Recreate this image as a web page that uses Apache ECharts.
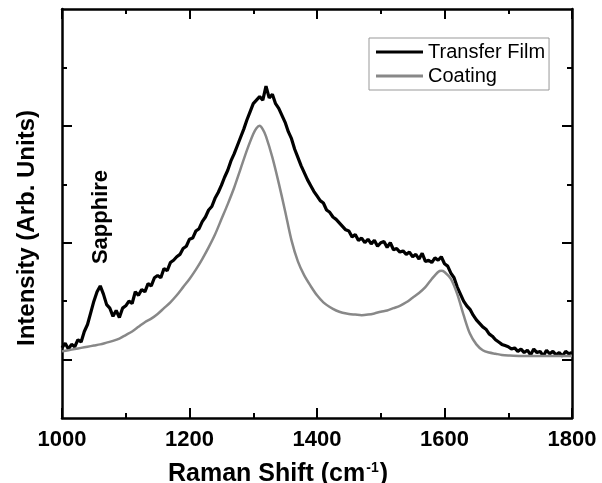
<!DOCTYPE html>
<html><head><meta charset="utf-8">
<script src="https://cdn.jsdelivr.net/npm/echarts@6/dist/echarts.min.js"></script>
<style>html,body{margin:0;padding:0;background:#fff}#c{width:602px;height:483px}</style>
</head><body><div id="c"></div>
<script>
const seriesNames = ['Transfer Film', 'Coating'];
const xAxisTitle = 'Raman Shift (cm';
const xAxisTitleSup = '-1';
const yAxisTitle = 'Intensity (Arb. Units)';
const peakLabel = 'Sapphire';
const yMajorTicks = [0, 1, 2];
const yMinorTicks = [0.5, 1.5, 2.5];

const transferFilm = [
[1000,0.10],[1005,0.14],[1010,0.09],[1015,0.13],[1020,0.11],[1025,0.17],[1030,0.15],[1035,0.24],[1040,0.30],[1045,0.40],
[1050,0.50],[1055,0.58],[1060,0.63],[1065,0.56],[1070,0.47],[1075,0.44],[1080,0.37],[1085,0.42],[1090,0.36],[1095,0.44],
[1100,0.46],[1105,0.50],[1110,0.48],[1115,0.58],[1120,0.55],[1125,0.60],[1130,0.58],[1135,0.65],[1140,0.63],[1145,0.70],
[1150,0.72],[1155,0.70],[1160,0.78],[1165,0.76],[1170,0.83],[1175,0.85],[1180,0.88],[1185,0.90],[1190,0.95],[1195,0.97],
[1200,1.03],[1205,1.04],[1210,1.10],[1215,1.12],[1220,1.18],[1225,1.22],[1230,1.28],[1235,1.31],[1240,1.38],[1245,1.43],
[1250,1.49],[1255,1.56],[1260,1.62],[1265,1.70],[1270,1.76],[1275,1.83],[1280,1.90],[1285,1.97],[1290,2.05],[1295,2.12],
[1300,2.19],[1305,2.22],[1310,2.25],[1315,2.22],[1320,2.34],[1325,2.24],[1330,2.27],[1335,2.19],[1340,2.15],[1345,2.09],
[1350,2.03],[1355,1.95],[1360,1.89],[1365,1.80],[1370,1.73],[1375,1.66],[1380,1.60],[1385,1.54],[1390,1.49],[1395,1.44],
[1400,1.40],[1405,1.36],[1410,1.34],[1415,1.28],[1420,1.26],[1425,1.22],[1430,1.20],[1435,1.17],[1440,1.14],[1445,1.11],
[1450,1.10],[1455,1.05],[1460,1.07],[1465,1.02],[1470,1.04],[1475,1.00],[1480,1.03],[1485,0.99],[1490,1.02],[1495,0.97],
[1500,1.00],[1505,1.01],[1510,0.96],[1515,1.00],[1520,0.94],[1525,0.95],[1530,0.92],[1535,0.93],[1540,0.90],[1545,0.92],
[1550,0.88],[1555,0.90],[1560,0.86],[1565,0.91],[1570,0.84],[1575,0.85],[1580,0.83],[1585,0.87],[1590,0.85],[1595,0.88],
[1600,0.82],[1605,0.80],[1610,0.74],[1615,0.70],[1620,0.62],[1625,0.56],[1630,0.50],[1635,0.46],[1640,0.43],[1645,0.38],
[1650,0.34],[1655,0.31],[1660,0.28],[1665,0.26],[1670,0.22],[1675,0.20],[1680,0.17],[1685,0.15],[1690,0.13],[1695,0.12],
[1700,0.11],[1705,0.09],[1710,0.10],[1715,0.07],[1720,0.09],[1725,0.06],[1730,0.08],[1735,0.04],[1740,0.09],[1745,0.06],
[1750,0.07],[1755,0.03],[1760,0.08],[1765,0.05],[1770,0.07],[1775,0.04],[1780,0.06],[1785,0.03],[1790,0.07],[1795,0.05],
[1800,0.06]
];

const coating = [
[1000,0.07],[1010,0.08],[1020,0.09],[1030,0.10],[1040,0.11],[1050,0.12],[1060,0.13],[1070,0.145],[1080,0.16],[1090,0.18],
[1100,0.21],[1110,0.24],[1120,0.28],[1130,0.32],[1140,0.35],[1150,0.39],[1160,0.44],[1170,0.49],[1180,0.55],[1190,0.62],
[1200,0.69],[1210,0.77],[1220,0.86],[1230,0.96],[1240,1.07],[1250,1.20],[1260,1.33],[1270,1.47],[1280,1.63],[1290,1.79],
[1300,1.93],[1305,1.98],[1310,2.00],[1315,1.97],[1320,1.91],[1330,1.73],[1340,1.51],[1350,1.27],[1360,1.02],[1370,0.84],
[1380,0.72],[1390,0.63],[1400,0.55],[1410,0.49],[1420,0.45],[1430,0.42],[1440,0.40],[1450,0.39],[1460,0.385],[1470,0.38],
[1480,0.385],[1490,0.395],[1500,0.41],[1510,0.42],[1520,0.44],[1530,0.46],[1540,0.49],[1550,0.53],[1560,0.57],[1570,0.62],
[1580,0.69],[1590,0.75],[1595,0.76],[1600,0.75],[1610,0.69],[1620,0.56],[1630,0.38],[1640,0.22],[1650,0.13],[1660,0.08],
[1670,0.06],[1680,0.05],[1690,0.04],[1700,0.035],[1720,0.03],[1740,0.03],[1760,0.03],[1780,0.03],[1800,0.03]
];

const FONT = '"Liberation Sans", Arial, Helvetica, sans-serif';
const LINE = {color:'#000', width:2.5};
const TICK = {color:'#000', width:2};

function xAx(pos, showLabel) {
  return {
    type:'value', position:pos, min:1000, max:1800, interval:200,
    axisLine:{show:true, onZero:false, lineStyle:LINE},
    axisTick:{show:true, inside:true, length:10, lineStyle:TICK},
    minorTick:{show:true, splitNumber:2, length:5, lineStyle:TICK},
    splitLine:{show:false}, minorSplitLine:{show:false},
    axisLabel:{show:showLabel, margin:11, fontFamily:FONT, fontSize:22, fontWeight:'bold', color:'#000',
               formatter:function(v){ return String(v); }}
  };
}
function yAx(pos, vals, len, showLine) {
  return {
    type:'value', position:pos, min:-0.5, max:3,
    axisLine:{show:showLine, onZero:false, lineStyle:LINE},
    axisTick:{show:true, inside:true, length:len, customValues:vals, lineStyle:TICK},
    axisLabel:{show:false}, splitLine:{show:false}
  };
}

const chart = echarts.init(document.getElementById('c'), null, {renderer:'canvas'});
chart.setOption({
  animation:false,
  backgroundColor:'#fff',
  grid:{left:62, right:30, top:9, bottom:65, containLabel:false, outerBoundsMode:'none'},
  xAxis:[xAx('bottom', true), xAx('top', false)],
  yAxis:[yAx('left', yMajorTicks, 10, true), yAx('left', yMinorTicks, 5, false),
         yAx('right', yMajorTicks, 10, true), yAx('right', yMinorTicks, 5, false)],
  legend:{
    data:seriesNames, orient:'vertical', left:369, top:38,
    padding:[4,4,4,7], borderColor:'#999', borderWidth:1,
    icon:'rect', itemWidth:47, itemHeight:3, itemGap:4,
    textStyle:{fontFamily:FONT, fontSize:20, color:'#000', lineHeight:20}
  },
  title:[{
    text:'{a|' + xAxisTitle + '}{s|' + xAxisTitleSup + '}{a|)}',
    left:163, top:456,
    textStyle:{rich:{
      a:{fontFamily:FONT, fontSize:25, fontWeight:'bold', color:'#000', lineHeight:27},
      s:{fontFamily:FONT, fontSize:14, fontWeight:'bold', color:'#000', lineHeight:14, padding:[0,1,12,1]}
    }}
  }],
  graphic:[
    {type:'text', x:27, y:228, rotation:Math.PI/2,
     style:{text:yAxisTitle, font:'bold 24px ' + FONT, fill:'#000', align:'center', verticalAlign:'middle', textAlign:'center', textVerticalAlign:'middle'}},
    {type:'text', x:101, y:217, rotation:Math.PI/2,
     style:{text:peakLabel, font:'bold 22px ' + FONT, fill:'#000', align:'center', verticalAlign:'middle', textAlign:'center', textVerticalAlign:'middle'}}
  ],
  series:[
    {name:seriesNames[0], type:'line', data:transferFilm, symbol:'none', xAxisIndex:0, yAxisIndex:0,
     lineStyle:{color:'#000', width:3.2}, itemStyle:{color:'#000'}},
    {name:seriesNames[1], type:'line', data:coating, symbol:'none', smooth:0.3, xAxisIndex:0, yAxisIndex:0,
     lineStyle:{color:'#888', width:2.5}, itemStyle:{color:'#888'}}
  ]
});
</script>
</body></html>
